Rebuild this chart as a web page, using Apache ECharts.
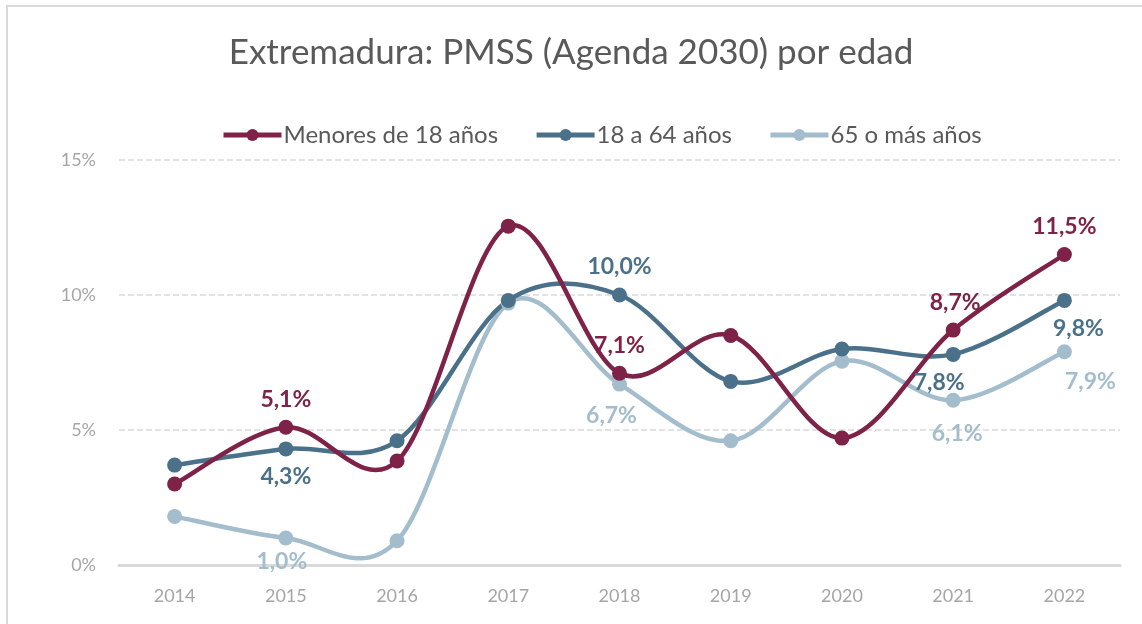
<!DOCTYPE html>
<html>
<head>
<meta charset="utf-8">
<script src="https://cdn.jsdelivr.net/npm/echarts@6/dist/echarts.min.js"></script>
<style>
  html, body { margin: 0; padding: 0; background: #fff; }
  #chart { width: 1142px; height: 624px; }
</style>
</head>
<body>
<div id="chart"></div>
<script>
const years = ['2014', '2015', '2016', '2017', '2018', '2019', '2020', '2021', '2022'];
const menores = [3.0, 5.1, 3.85, 12.55, 7.1, 8.5, 4.7, 8.7, 11.5];
const adultos = [3.7, 4.3, 4.6, 9.8, 10.0, 6.8, 8.0, 7.8, 9.8];
const mayores = [1.8, 1.0, 0.9, 9.7, 6.7, 4.6, 7.55, 6.1, 7.9];
const yTicks = [0, 5, 10, 15];

const FONT = 'Lato, "Noto Sans", sans-serif';
const colors = ['#7E2247', '#4B718A', '#A3BDCC'];
const names = ['Menores de 18 años', '18 a 64 años', '65 o más años'];

const chart = echarts.init(document.getElementById('chart'));

// which points get a data label, and where
const labelSpots = [
  { 1: 'top', 4: 'top', 7: 'top', 8: 'top' },
  { 1: 'bottom', 4: 'top', 7: 'bottom', 8: 'bottom' },
  { 1: 'bottom', 4: 'bottom', 7: 'bottom', 8: 'bottom' }
];
const labelOffsets = [
  { 7: [2, 0] },
  { 7: [-14, 0], 8: [14, 0] },
  { 1: [-4, -4], 4: [-8, 3], 7: [4, 5], 8: [26, 2] }
];

function buildData(values, idx) {
  return values.map((v, i) => {
    const pos = labelSpots[idx][i];
    if (!pos) return v;
    return {
      value: v,
      label: {
        show: true,
        position: pos,
        distance: 9,
        offset: labelOffsets[idx][i] || [0, 0]
      }
    };
  });
}

// Excel-like smoothed curve, points mapped through the axes with api.coord
function curveSeries(values, idx) {
  return {
    name: names[idx] + ' curve',
    type: 'custom',
    data: [[0, values[0]]],
    z: 5 - idx,
    silent: true,
    renderItem: function (params, api) {
      const pts = values.map((v, i) => api.coord([i, v]));
      let d = 'M' + pts[0][0] + ' ' + pts[0][1];
      for (let i = 0; i < pts.length - 1; i++) {
        const p0 = pts[Math.max(i - 1, 0)];
        const p1 = pts[i];
        const p2 = pts[i + 1];
        const p3 = pts[Math.min(i + 2, pts.length - 1)];
        const c1 = [p1[0] + (p2[0] - p0[0]) / 6, p1[1] + (p2[1] - p0[1]) / 6];
        const c2 = [p2[0] - (p3[0] - p1[0]) / 6, p2[1] - (p3[1] - p1[1]) / 6];
        d += ' C' + c1[0] + ' ' + c1[1] + ' ' + c2[0] + ' ' + c2[1] + ' ' + p2[0] + ' ' + p2[1];
      }
      return {
        type: 'path',
        shape: { pathData: d },
        style: { fill: 'none', stroke: colors[idx], lineWidth: 4.5, lineCap: 'round', lineJoin: 'round' }
      };
    }
  };
}

function makeSeries(values, idx) {
  return {
    name: names[idx],
    type: 'line',
    data: buildData(values, idx),
    symbol: 'circle',
    symbolSize: 15,
    lineStyle: { width: 4, color: colors[idx], opacity: 0 },
    itemStyle: { color: colors[idx] },
    label: {
      show: false,
      color: colors[idx],
      fontFamily: FONT,
      fontWeight: 'bold',
      fontSize: 23,
      formatter: p => p.value.toFixed(1).replace('.', ',') + '%'
    },
    emphasis: { disabled: true },
    z: 10 - idx
  };
}

chart.setOption({
  animation: false,
  backgroundColor: '#fff',
  title: {
    text: 'Extremadura: PMSS (Agenda 2030) por edad',
    left: 'center',
    top: 30,
    textStyle: { fontFamily: FONT, fontWeight: 'normal', fontSize: 35, color: '#595959' }
  },
  legend: {
    left: 216,
    top: 118,
    itemWidth: 58,
    itemHeight: 15,
    itemGap: 36,
    textStyle: { fontFamily: FONT, fontSize: 24, color: '#595959', padding: [0, 0, 0, -3] },
    data: names.map((n, i) => ({ name: n, lineStyle: { opacity: 1, width: 5, color: colors[i] } }))
  },
  graphic: [{
    type: 'rect',
    shape: { x: 7, y: 6, width: 1200, height: 700 },
    style: { fill: 'none', stroke: '#D9D9D9', lineWidth: 2 },
    silent: true
  }],
  grid: { left: 119, right: 22, top: 160, bottom: 59 },
  xAxis: {
    type: 'category',
    data: years,
    boundaryGap: true,
    axisLine: { show: true, lineStyle: { color: '#D9D9D9', width: 3 } },
    axisTick: { show: false },
    axisLabel: { fontFamily: FONT, fontSize: 18, color: '#A6A6A6', margin: 22 }
  },
  yAxis: {
    type: 'value',
    min: yTicks[0],
    max: yTicks[yTicks.length - 1],
    interval: yTicks[1] - yTicks[0],
    axisLine: { show: false },
    axisTick: { show: false },
    axisLabel: { fontFamily: FONT, fontSize: 18, color: '#A6A6A6', margin: 23, formatter: '{value}%' },
    splitLine: { lineStyle: { color: '#D9D9D9', type: [6, 3], width: 1.5 } }
  },
  series: [
    curveSeries(menores, 0),
    curveSeries(adultos, 1),
    curveSeries(mayores, 2),
    makeSeries(menores, 0),
    makeSeries(adultos, 1),
    makeSeries(mayores, 2)
  ]
});
</script>
</body>
</html>
